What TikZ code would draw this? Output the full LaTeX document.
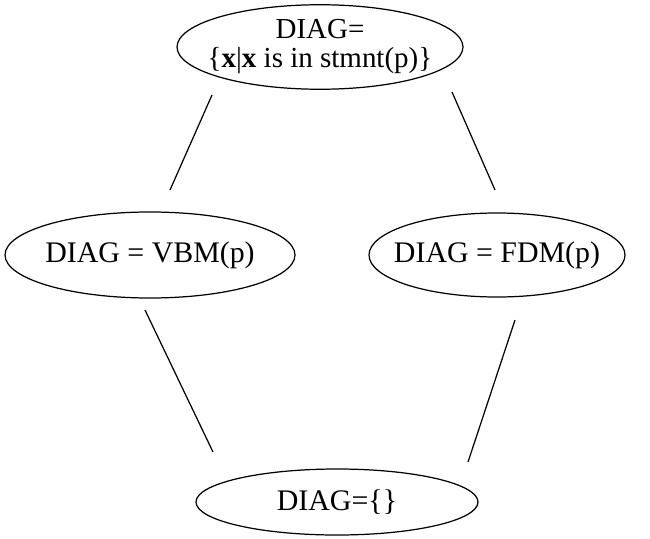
\documentclass[tikz,border=0pt]{standalone}
\usepackage{fontspec}
\setmainfont{Liberation Serif}
\usetikzlibrary{shapes.geometric}
\newcommand{\tight}[1]{\makebox[0pt]{#1}}
\begin{document}
\begin{tikzpicture}[
  state/.style={draw, ellipse, line width=0.7pt, inner sep=0pt,
    font=\fontsize{17}{19}\selectfont},
  link/.style={line width=0.7pt}
]
\useasboundingbox (0,0) rectangle (13,10.76);
% lattice of DIAG values
\node[state, minimum width=5.72cm, minimum height=1.68cm] (top) at (6.4,9.82)
  {\tight{\fontsize{16.5}{17.5}\selectfont
   \begin{tabular}{@{}c@{}}DIAG=\\[-1pt]\{\textbf{x}|\textbf{x} is in stmnt(p)\}\end{tabular}}};
\node[state, minimum width=5.8cm, minimum height=1.72cm] (vbm) at (3.0,5.66)
  {\tight{DIAG = VBM(p)}};
\node[state, minimum width=5.12cm, minimum height=1.68cm] (fdm) at (9.94,5.66)
  {\tight{DIAG = FDM(p)}};
\node[state, minimum width=5.64cm, minimum height=1.32cm] (bot) at (6.74,0.72)
  {\tight{DIAG=\{\}}};
% connector end points, kept clear of the ellipses
\coordinate (a1) at (4.24,8.86);
\coordinate (a2) at (3.4,6.96);
\coordinate (b1) at (9.04,8.92);
\coordinate (b2) at (9.9,6.96);
\coordinate (c1) at (2.9,4.56);
\coordinate (c2) at (4.26,1.72);
\coordinate (d1) at (10.3,4.36);
\coordinate (d2) at (9.36,1.52);
\draw[link] (a1) -- (a2);
\draw[link] (b1) -- (b2);
\draw[link] (c1) -- (c2);
\draw[link] (d1) -- (d2);
\end{tikzpicture}
\end{document}
